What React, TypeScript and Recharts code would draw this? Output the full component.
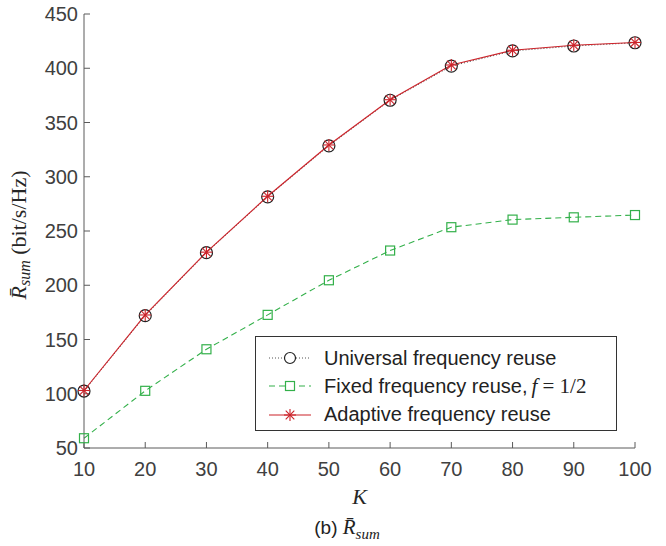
import { LineChart, Line, XAxis, YAxis, Legend } from "recharts";

const kValues = [10, 20, 30, 40, 50, 60, 70, 80, 90, 100];
const universalReuse = [102.5, 172, 230, 281.5, 328.5, 370.5, 402, 416, 420.5, 423.5];
const fixedReuse = [59, 102.7, 141, 172.7, 204.6, 232, 253.5, 260.5, 262.6, 264.7];
const adaptiveReuse = [103, 172.6, 230.5, 282, 329.3, 371, 403, 416.6, 421.2, 423.8];

const xTicks = [10, 20, 30, 40, 50, 60, 70, 80, 90, 100];
const yTicks = [50, 100, 150, 200, 250, 300, 350, 400, 450];

const rows = kValues.map((k, i) => ({
  k,
  universal: universalReuse[i],
  fixed: fixedReuse[i],
  adaptive: adaptiveReuse[i],
}));

const BLACK = "#222222";
const GREEN = "#33b04a";
const RED = "#cc2229";
const AXIS = "#5a5a5a";
const SANS = "'Liberation Sans', Arial, sans-serif";
const SERIF = "'Liberation Serif', 'Times New Roman', serif";

const tickFont = { fontSize: 20, fill: "#404040", fontFamily: SANS };

function SquareDot(props: any) {
  const { cx, cy } = props;
  if (cx == null || cy == null) return null;
  return (
    <rect x={cx - 4.5} y={cy - 4.5} width={9} height={9} fill="none" stroke={GREEN} strokeWidth={1.2} />
  );
}

function StarDot(props: any) {
  const { cx, cy } = props;
  if (cx == null || cy == null) return null;
  const r = 6;
  const d = r * 0.72;
  return (
    <g stroke={RED} strokeWidth={1.1}>
      <line x1={cx - r} y1={cy} x2={cx + r} y2={cy} />
      <line x1={cx} y1={cy - r} x2={cx} y2={cy + r} />
      <line x1={cx - d} y1={cy - d} x2={cx + d} y2={cy + d} />
      <line x1={cx - d} y1={cy + d} x2={cx + d} y2={cy - d} />
    </g>
  );
}

function YLabel(props: any) {
  const vb = props.viewBox || {};
  const cx = (vb.x ?? 0) + 26;
  const cy = (vb.y ?? 0) + (vb.height ?? 0) / 2 + 4;
  return (
    <text
      x={cx}
      y={cy}
      transform={`rotate(-90 ${cx} ${cy})`}
      textAnchor="middle"
      fontFamily={SERIF}
      fontSize={22}
      fill="#262626"
    >
      <tspan fontStyle="italic">R&#772;</tspan>
      <tspan fontStyle="italic" fontSize={16} dy={4}>sum</tspan>
      <tspan dy={-4}>{"   (bit/s/Hz)"}</tspan>
    </text>
  );
}

function XLabel(props: any) {
  const vb = props.viewBox || {};
  const cx = (vb.x ?? 0) + (vb.width ?? 0) / 2;
  const cy = (vb.y ?? 0) + 56;
  return (
    <text x={cx} y={cy} textAnchor="middle" fontFamily={SERIF} fontStyle="italic" fontSize={22} fill="#262626">
      K
    </text>
  );
}

function LegendBox() {
  const row = (sample: React.ReactNode, label: React.ReactNode) => (
    <div style={{ display: "flex", alignItems: "center", height: 28.3 }}>
      <svg width={60} height={20} style={{ marginLeft: 10, flex: "none" }}>
        {sample}
      </svg>
      <span style={{ marginLeft: -2, fontFamily: SANS, fontSize: 20, color: "#222", whiteSpace: "nowrap" }}>
        {label}
      </span>
    </div>
  );
  return (
    <div
      style={{
        width: 362,
        height: 95,
        border: "1px solid #333",
        background: "#fff",
        boxSizing: "border-box",
        paddingTop: 7,
      }}
    >
      {row(
        <g>
          <line x1={3} y1={10} x2={45} y2={10} stroke="#555" strokeWidth={1} strokeDasharray="1 2" />
          <circle cx={24} cy={10} r={5.5} fill="#fff" stroke={BLACK} strokeWidth={1.2} />
        </g>,
        "Universal frequency reuse"
      )}
      {row(
        <g>
          <line x1={3} y1={10} x2={45} y2={10} stroke={GREEN} strokeWidth={1.1} strokeDasharray="6 4" />
          <rect x={19.5} y={5.5} width={9} height={9} fill="#fff" stroke={GREEN} strokeWidth={1.2} />
        </g>,
        <>
          Fixed frequency reuse,
          <span style={{ fontFamily: SERIF, fontSize: 21, marginLeft: 4 }}>
            <i>f</i> = 1/2
          </span>
        </>
      )}
      {row(
        <g>
          <line x1={3} y1={10} x2={45} y2={10} stroke={RED} strokeWidth={1.1} />
          <StarDot cx={24} cy={10} />
        </g>,
        "Adaptive frequency reuse"
      )}
    </div>
  );
}

export default function App() {
  return (
    <div style={{ position: "absolute", left: 0, top: 0, width: 666, height: 546, background: "#fff" }}>
      <LineChart width={666} height={546} data={rows} margin={{ top: 14, right: 31, bottom: 68, left: 0 }}>
        <XAxis
          xAxisId="b"
          dataKey="k"
          type="number"
          domain={[10, 100]}
          ticks={xTicks}
          height={30}
          stroke={AXIS}
          tickSize={-6}
          tickMargin={20}
          tick={tickFont}
          label={<XLabel />}
        />
        <XAxis
          xAxisId="t"
          orientation="top"
          dataKey="k"
          type="number"
          domain={[10, 100]}
          ticks={xTicks}
          height={0}
          stroke={AXIS}
          tickSize={-6}
          tickFormatter={() => ""}
        />
        <YAxis
          yAxisId="l"
          type="number"
          domain={[50, 450]}
          ticks={yTicks}
          width={84}
          stroke={AXIS}
          tickSize={-6}
          tickMargin={12}
          tick={tickFont}
          label={<YLabel />}
        />
        <YAxis
          yAxisId="r"
          orientation="right"
          type="number"
          domain={[50, 450]}
          ticks={yTicks}
          width={0}
          stroke={AXIS}
          tickSize={-6}
          tickFormatter={() => ""}
        />
        <Legend
          layout="vertical"
          align="center"
          verticalAlign="middle"
          content={<LegendBox />}
          wrapperStyle={{ left: 255, top: 336, width: 362, height: 95 }}
        />
        <Line
          xAxisId="b"
          yAxisId="l"
          dataKey="universal"
          stroke="#444"
          strokeWidth={1}
          strokeDasharray="1 2"
          dot={{ r: 6, fill: "none", stroke: BLACK, strokeWidth: 1.2, strokeDasharray: "" }}
          isAnimationActive={false}
        />
        <Line
          xAxisId="b"
          yAxisId="l"
          dataKey="fixed"
          stroke={GREEN}
          strokeWidth={1.1}
          strokeDasharray="6 4"
          dot={<SquareDot />}
          isAnimationActive={false}
        />
        <Line
          xAxisId="b"
          yAxisId="l"
          dataKey="adaptive"
          stroke={RED}
          strokeWidth={1.1}
          dot={<StarDot />}
          isAnimationActive={false}
        />
      </LineChart>
      <div
        style={{
          position: "absolute",
          left: 347,
          top: 529,
          transform: "translate(-50%, -50%)",
          whiteSpace: "nowrap",
          fontFamily: SANS,
          fontSize: 19,
          color: "#222",
        }}
      >
        (b){" "}
        <span style={{ fontFamily: SERIF, fontSize: 21, fontStyle: "italic" }}>
          R&#772;<sub style={{ fontSize: 15 }}>sum</sub>
        </span>
      </div>
    </div>
  );
}
